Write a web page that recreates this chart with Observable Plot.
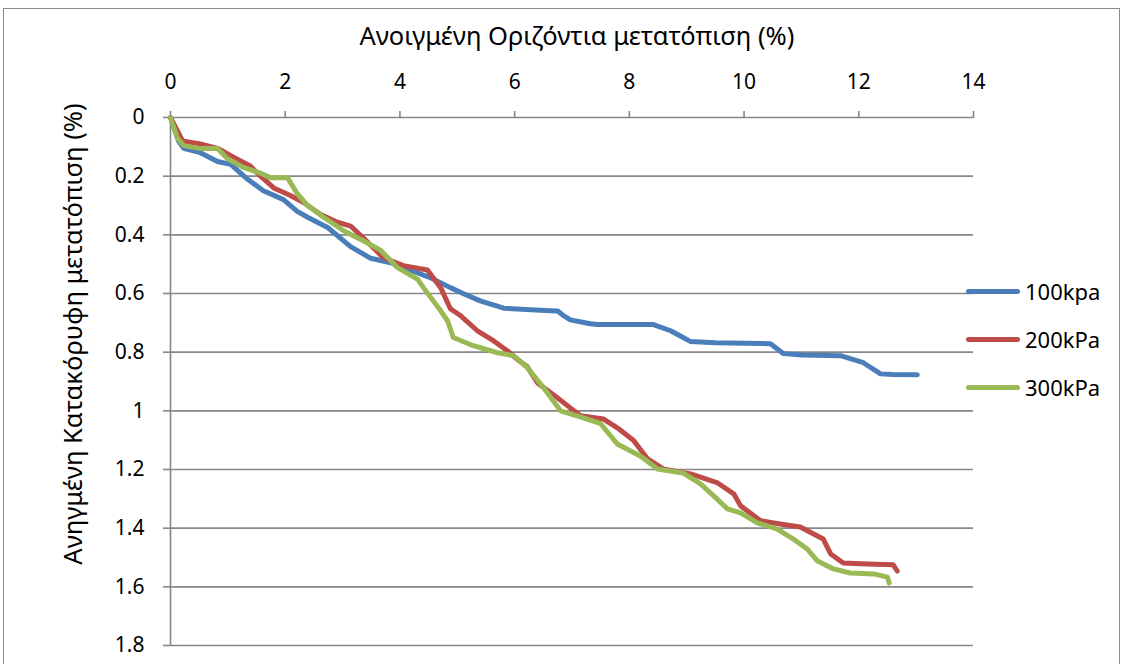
<!DOCTYPE html>
<html><head><meta charset="utf-8">
<script src="https://cdn.jsdelivr.net/npm/d3@7"></script>
<script src="https://cdn.jsdelivr.net/npm/@observablehq/plot@0.6"></script>
<style>
body{margin:0;background:#fff;overflow:hidden;font-family:"Noto Sans",sans-serif}
#wrap{position:relative;width:1123px;height:664px;overflow:hidden}
#frame{position:absolute;left:3px;top:8px;width:1117px;height:720px;border:1px solid #8c8c8c;box-sizing:border-box}
#chart{position:absolute;left:0;top:0}
#legend{position:absolute;left:966px;top:267px;font-size:22px;color:#000}
.li{display:flex;align-items:center;height:48px}
.sw{width:54px;height:5px;border-radius:3px;margin-right:5px}
</style></head><body>
<div id="wrap"><div id="frame"></div><div id="chart"></div><div id="legend"></div></div>
<script>
const seriesNames = ["100kpa", "200kPa", "300kPa"];
const seriesColors = ["#4a7ebb", "#be4b48", "#98b954"];
const xTitle = "Ανοιγμένη Οριζόντια μετατόπιση (%)";
const yTitle = "Ανηγμένη Κατακόρυφη μετατόπιση (%)";
const xTicks = [0, 2, 4, 6, 8, 10, 12, 14];
const yTicks = [0, 0.2, 0.4, 0.6, 0.8, 1, 1.2, 1.4, 1.6, 1.8];

const x100 = [0,0.14,0.23,0.52,0.82,1.05,1.34,1.62,1.97,2.21,2.39,2.74,3.14,3.49,3.84,4.31,4.53,4.88,5.1,5.4,5.81,6.28,6.62,6.75,6.85,6.97,7.32,7.44,8.42,8.72,8.89,9.07,9.5,10.0,10.46,10.69,11.0,11.68,12.08,12.38,12.6,13.02];
const y100 = [0,0.08,0.105,0.12,0.15,0.16,0.21,0.25,0.28,0.32,0.34,0.375,0.44,0.48,0.495,0.53,0.546,0.58,0.6,0.625,0.65,0.655,0.659,0.66,0.675,0.69,0.703,0.706,0.706,0.727,0.745,0.764,0.768,0.77,0.771,0.805,0.81,0.812,0.836,0.874,0.876,0.877];

const x200 = [0,0.21,0.52,0.82,1.05,1.39,1.57,1.80,2.09,2.32,2.61,2.91,3.14,3.36,3.71,4.06,4.48,4.71,4.88,5.06,5.35,5.63,5.87,6.05,6.22,6.40,6.57,6.75,6.97,7.15,7.55,7.79,8.07,8.32,8.59,9.07,9.54,9.82,9.94,10.29,10.63,10.98,11.38,11.51,11.73,12.15,12.60,12.67];
const y200 = [0,0.08,0.09,0.105,0.13,0.165,0.2,0.24,0.266,0.29,0.33,0.357,0.37,0.41,0.478,0.505,0.52,0.58,0.652,0.676,0.727,0.761,0.795,0.825,0.85,0.905,0.93,0.956,0.99,1.017,1.028,1.058,1.10,1.164,1.198,1.215,1.246,1.283,1.324,1.375,1.386,1.396,1.437,1.488,1.519,1.522,1.525,1.546];

const x300 = [0,0.12,0.23,0.52,0.82,0.99,1.27,1.57,1.74,2.04,2.21,2.39,2.67,3.02,3.36,3.66,3.96,4.31,4.41,4.71,4.83,4.93,5.28,5.70,5.98,6.22,6.50,6.80,7.20,7.50,7.79,8.19,8.49,8.94,9.24,9.47,9.71,9.94,10.23,10.58,10.86,11.10,11.28,11.56,11.85,12.26,12.50,12.53];
const y300 = [0,0.07,0.096,0.106,0.106,0.14,0.17,0.19,0.205,0.205,0.26,0.30,0.34,0.386,0.42,0.452,0.512,0.552,0.58,0.659,0.693,0.75,0.778,0.802,0.812,0.853,0.92,1.0,1.024,1.044,1.113,1.154,1.198,1.212,1.249,1.290,1.334,1.348,1.382,1.403,1.437,1.471,1.512,1.539,1.553,1.556,1.567,1.587];

const seriesX = [x100, x200, x300];
const seriesY = [y100, y200, y300];
const rows = [];
seriesNames.forEach((name, i) => {
  seriesX[i].forEach((xv, j) => rows.push({series: name, x: xv, y: seriesY[i][j]}));
});

const fmt = d => String(+(+d).toFixed(1));
const gray = "#868686";

const chart = Plot.plot({
  width: 1123, height: 664,
  marginLeft: 170, marginRight: 150, marginTop: 117, marginBottom: 19,
  style: {fontFamily: "'Noto Sans', sans-serif", fontSize: "21px", color: "#000", background: "transparent", overflow: "visible"},
  x: {domain: [0, 14], axis: null},
  y: {domain: [0, 1.8], reverse: true, axis: null},
  color: {domain: seriesNames, range: seriesColors},
  marks: [
    Plot.gridY(yTicks, {stroke: gray, strokeOpacity: 1, strokeWidth: 1.6}),
    Plot.ruleX([0], {stroke: gray, strokeWidth: 1.6}),
    Plot.axisX({anchor: "top", ticks: xTicks, tickFormat: fmt, tickSize: 7, tickPadding: 22, stroke: gray, strokeWidth: 1.6, label: null}),
    Plot.axisY({anchor: "left", ticks: yTicks, tickFormat: fmt, tickSize: 7, tickPadding: 19, stroke: gray, strokeWidth: 1.6, label: null}),
    Plot.line(rows, {x: "x", y: "y", z: "series", stroke: "series", strokeWidth: 5, strokeLinejoin: "round", strokeLinecap: "round"})
  ]
});
document.getElementById("chart").appendChild(chart);

const svg = d3.select(chart);
svg.append("text").attr("x", 577).attr("y", 38).attr("text-anchor", "middle").attr("dominant-baseline", "middle")
  .attr("font-size", 25.5).attr("fill", "#000").text(xTitle);
svg.append("text").attr("transform", "translate(75,334) rotate(-90)").attr("text-anchor", "middle").attr("dominant-baseline", "middle")
  .attr("font-size", 25.5).attr("fill", "#000").text(yTitle);

const legend = d3.select("#legend");
seriesNames.forEach((n, i) => {
  const row = legend.append("div").attr("class", "li");
  row.append("div").attr("class", "sw").style("background", seriesColors[i]);
  row.append("span").text(n);
});
</script>
</body></html>
